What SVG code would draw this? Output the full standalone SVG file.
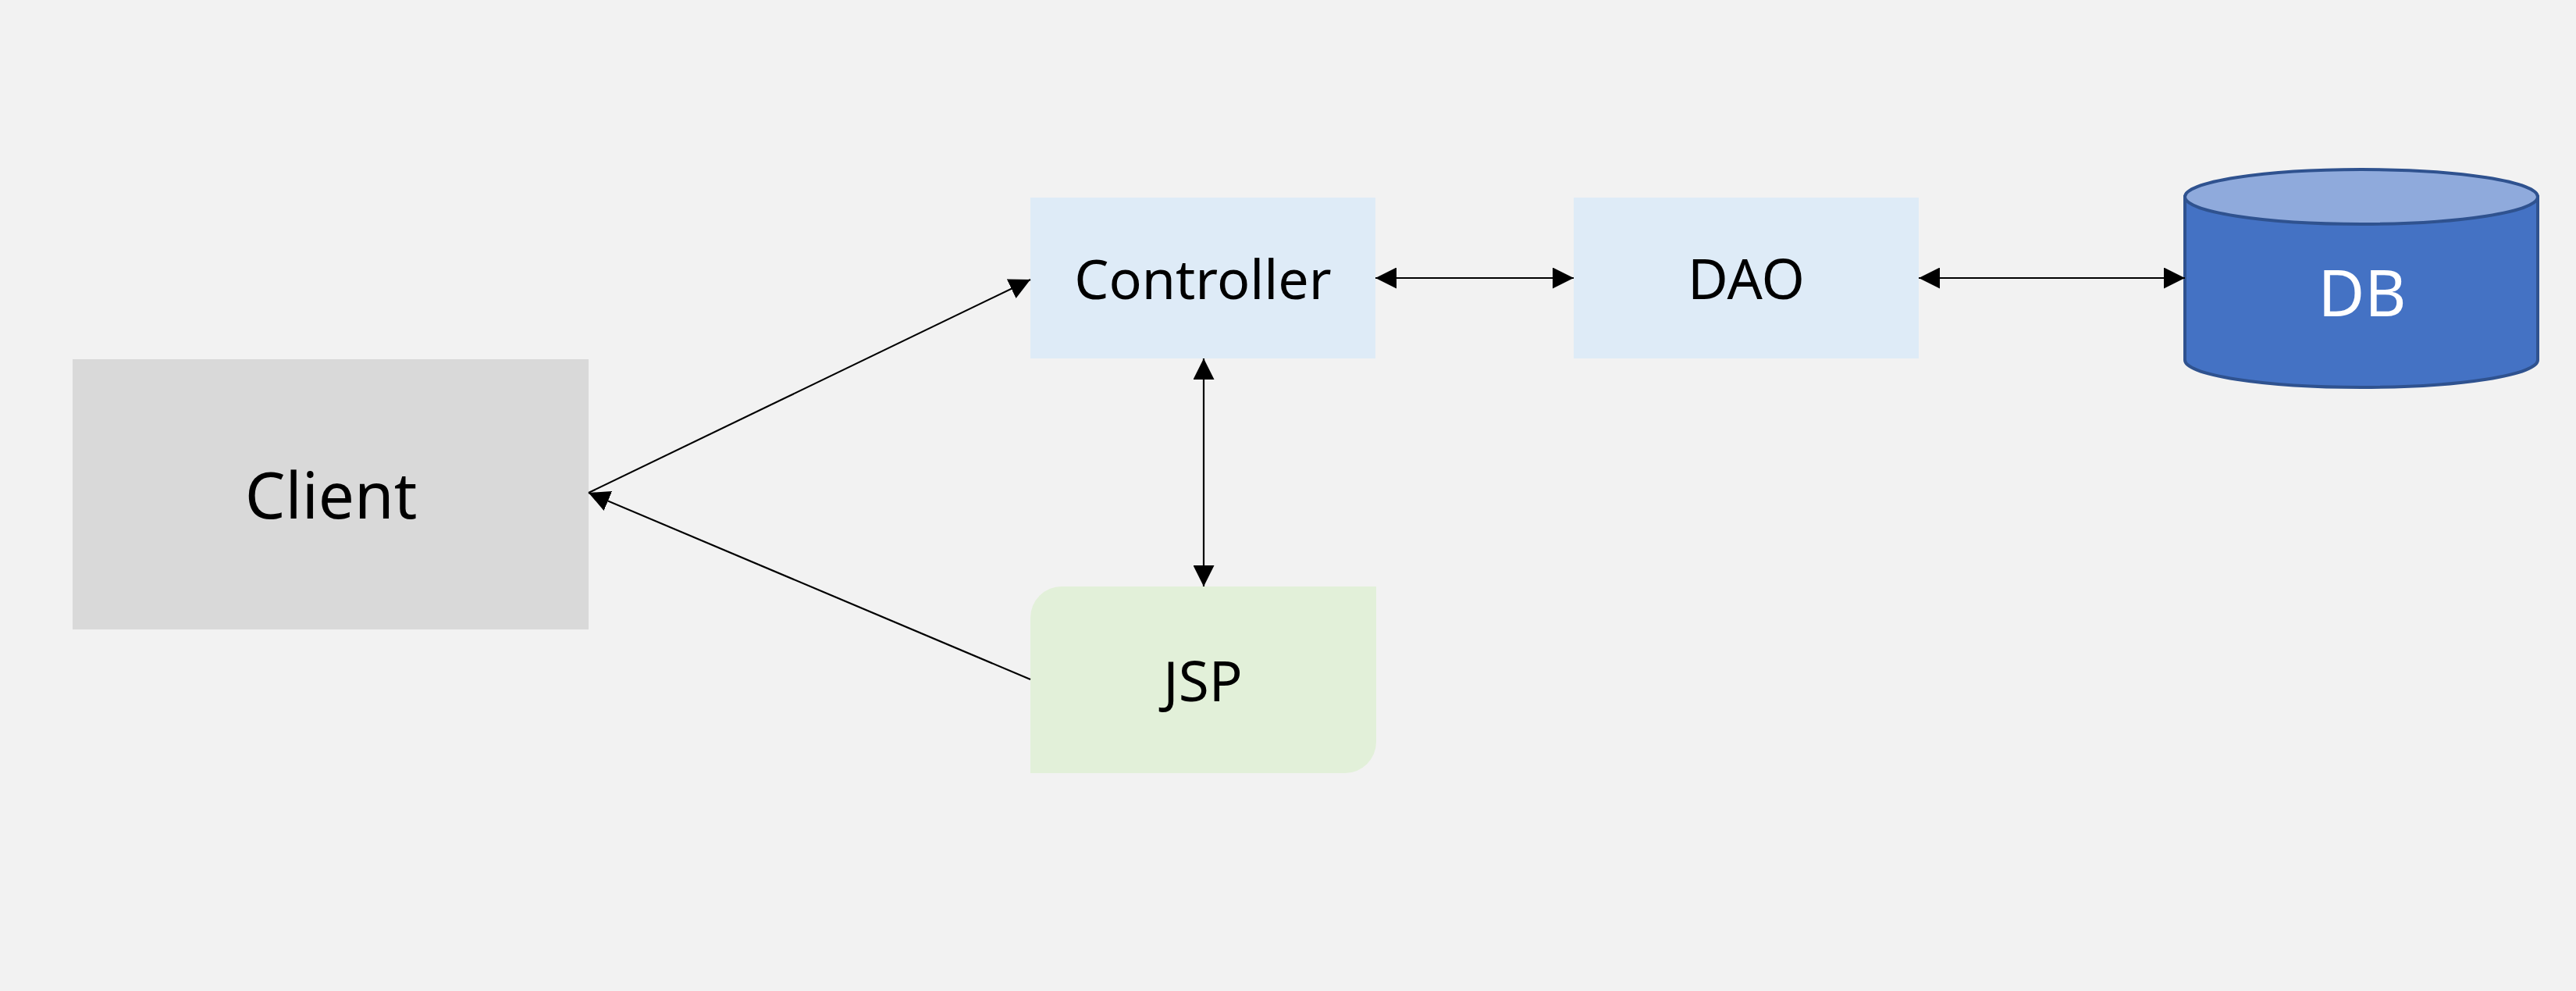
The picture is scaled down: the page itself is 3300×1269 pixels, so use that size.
<svg xmlns="http://www.w3.org/2000/svg" width="3300" height="1269" viewBox="0 0 3300 1269">
<defs>
<marker id="arr" markerUnits="userSpaceOnUse" markerWidth="27" markerHeight="27" refX="27" refY="13.5" orient="auto-start-reverse" viewBox="0 0 27 27">
<path d="M0,0 L27,13.5 L0,27 Z" fill="#000"/>
</marker>
</defs>
<style>
.lbl{font-family:"Noto Sans","Open Sans","DejaVu Sans",sans-serif;text-anchor:middle;fill:#000}
.conn{stroke:#000;stroke-width:2.2;fill:none}
</style>
<rect x="0" y="0" width="3300" height="1269" fill="#F2F2F2"/>
<g id="client">
<rect x="93" y="460" width="661" height="346" fill="#D9D9D9"/>
<text class="lbl" x="424" y="664" font-size="82">Client</text>
</g>
<g id="controller">
<rect x="1320" y="253" width="442" height="206" fill="#DEEBF7"/>
<text class="lbl" x="1541" y="383" font-size="70">Controller</text>
</g>
<g id="dao">
<rect x="2016" y="253" width="442" height="206" fill="#DEEBF7"/>
<text class="lbl" x="2237" y="383" font-size="71">DAO</text>
</g>
<g id="jsp">
<path d="M1360,751 H1763 V950 A40,40 0 0 1 1723,990 H1320 V791 A40,40 0 0 1 1360,751 Z" fill="#E2F0D9"/>
<text class="lbl" x="1541" y="898" font-size="71">JSP</text>
</g>
<g id="db">
<path d="M2799,252 V461 A226,35 0 0 0 3251,461 V252 Z" fill="#4472C4" stroke="#2F528F" stroke-width="4"/>
<ellipse cx="3025" cy="252" rx="226" ry="35" fill="#8FAADC" stroke="#2F528F" stroke-width="4"/>
<text class="lbl" x="3026" y="405" font-size="82" style="fill:#fff">DB</text>
</g>
<g id="connectors">
<line class="conn" x1="754" y1="631" x2="1320" y2="358" marker-end="url(#arr)"/>
<line class="conn" x1="1320" y1="870" x2="754" y2="631" marker-end="url(#arr)"/>
<line class="conn" x1="1762" y1="356" x2="2016" y2="356" marker-start="url(#arr)" marker-end="url(#arr)"/>
<line class="conn" x1="2458" y1="356" x2="2799" y2="356" marker-start="url(#arr)" marker-end="url(#arr)"/>
<line class="conn" x1="1542" y1="459" x2="1542" y2="751" marker-start="url(#arr)" marker-end="url(#arr)"/>
</g>
</svg>
